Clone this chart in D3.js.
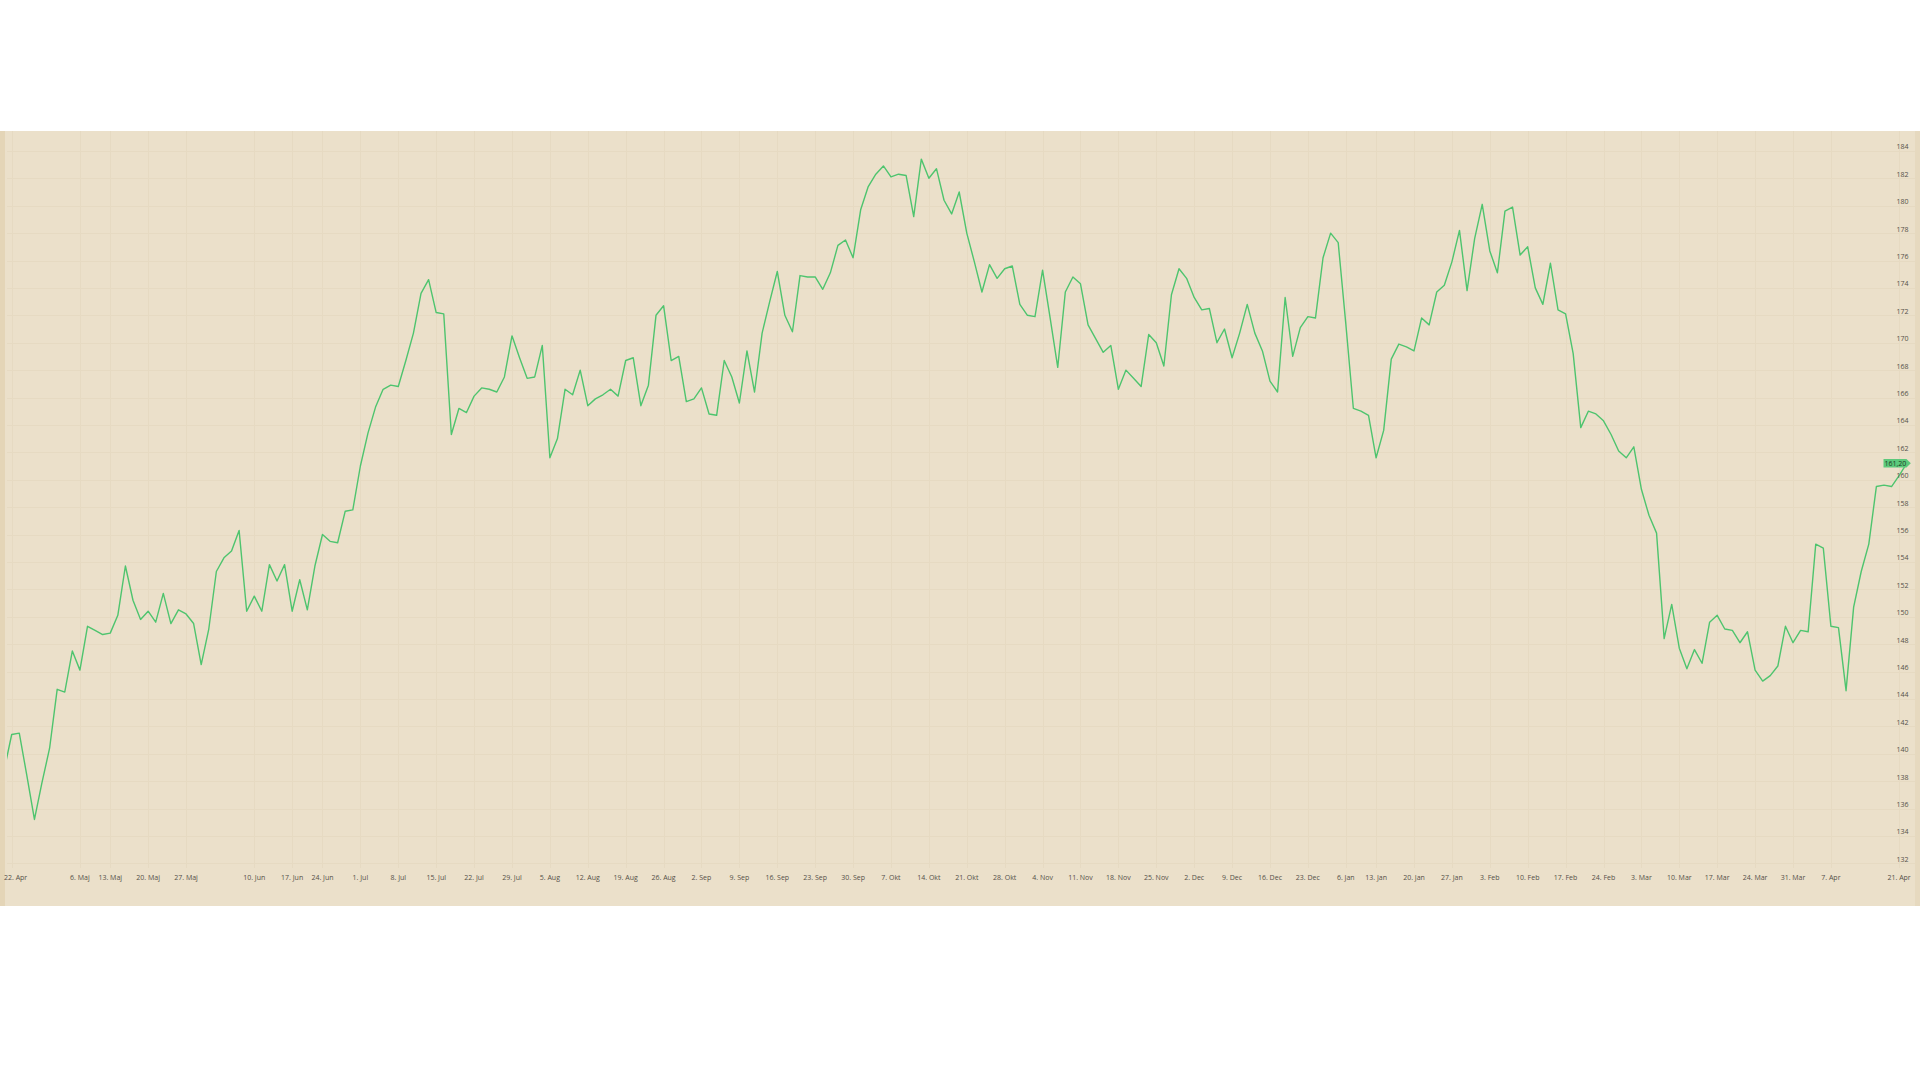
<!DOCTYPE html>
<html>
<head>
<meta charset="utf-8">
<script src="https://cdn.jsdelivr.net/npm/d3@7"></script>
<style>
  html, body { margin: 0; padding: 0; background: #ffffff; }
  svg { display: block; }
</style>
</head>
<body>
<svg id="chart" width="1920" height="1080"></svg>
<script>
// Daily closing prices (first value is the session before 22. Apr, partly off-screen)
const prices = [
  138.8,
  141.4, 141.5, 138.4, 135.2, 137.9, 140.4, 144.7, 144.5, 147.5, 146.1,
  149.3, 149.0, 148.7, 148.8, 150.1, 153.7, 151.2, 149.8, 150.4, 149.6,
  151.7, 149.5, 150.5, 150.2, 149.5, 146.5, 149.1, 153.3, 154.3, 154.8,
  156.3, 150.4, 151.5, 150.4, 153.8, 152.6, 153.8, 150.4, 152.7, 150.5,
  153.7, 156.0, 155.5, 155.4, 157.7, 157.8, 161.0, 163.4, 165.3, 166.6,
  166.9, 166.8, 168.7, 170.7, 173.6, 174.6, 172.2, 172.1, 163.3, 165.2,
  164.9, 166.1, 166.7, 166.6, 166.4, 167.5, 170.5, 168.9, 167.4, 167.5,
  169.8, 161.6, 163.0, 166.6, 166.2, 168.0, 165.4, 165.9, 166.2, 166.6,
  166.1, 168.7, 168.9, 165.4, 166.9, 172.0, 172.7, 168.7, 169.0, 165.7,
  165.9, 166.7, 164.8, 164.7, 168.7, 167.5, 165.6, 169.4, 166.4, 170.7,
  173.0, 175.2, 172.0, 170.8, 174.9, 174.8, 174.8, 173.9, 175.1, 177.1,
  177.5, 176.2, 179.7, 181.4, 182.3, 182.9, 182.1, 182.3, 182.2, 179.2,
  183.4, 182.0, 182.7, 180.4, 179.4, 181.0, 178.0, 175.9, 173.7, 175.7,
  174.7, 175.4, 175.6, 172.8, 172.0, 171.9, 175.3, 171.8, 168.2, 173.7,
  174.8, 174.3, 171.3, 170.3, 169.3, 169.8, 166.6, 168.0, 167.4, 166.8,
  170.6, 170.0, 168.3, 173.5, 175.4, 174.7, 173.3, 172.4, 172.5, 170.0,
  171.0, 168.9, 170.7, 172.8, 170.7, 169.4, 167.2, 166.4, 173.3, 169.0,
  171.1, 171.9, 171.8, 176.2, 178.0, 177.3, 171.4, 165.2, 165.0, 164.7,
  161.6, 163.6, 168.8, 169.9, 169.7, 169.4, 171.8, 171.3, 173.7, 174.2,
  175.9, 178.2, 173.8, 177.6, 180.1, 176.7, 175.1, 179.6, 179.9, 176.4,
  177.0, 174.0, 172.8, 175.8, 172.4, 172.1, 169.2, 163.8, 165.0, 164.8,
  164.3, 163.3, 162.1, 161.6, 162.4, 159.3, 157.4, 156.1, 148.4, 150.9,
  147.7, 146.2, 147.6, 146.6, 149.6, 150.1, 149.1, 149.0, 148.1, 148.9,
  146.1, 145.3, 145.7, 146.4, 149.3, 148.1, 149.0, 148.9, 155.3, 155.0,
  149.3, 149.2, 144.6, 150.7, 153.3, 155.3, 159.5, 159.6, 159.5, 160.3,
  161.2
];

// Weekly x-axis labels and the session (position in prices) each one marks
const tickLabels = [
  "22. Apr", "6. Maj", "13. Maj", "20. Maj", "27. Maj", "10. Jun", "17. Jun", "24. Jun",
  "1. Jul", "8. Jul", "15. Jul", "22. Jul", "29. Jul", "5. Aug", "12. Aug", "19. Aug",
  "26. Aug", "2. Sep", "9. Sep", "16. Sep", "23. Sep", "30. Sep", "7. Okt", "14. Okt",
  "21. Okt", "28. Okt", "4. Nov", "11. Nov", "18. Nov", "25. Nov", "2. Dec", "9. Dec",
  "16. Dec", "23. Dec", "6. Jan", "13. Jan", "20. Jan", "27. Jan", "3. Feb", "10. Feb",
  "17. Feb", "24. Feb", "3. Mar", "10. Mar", "17. Mar", "24. Mar", "31. Mar", "7. Apr",
  "21. Apr"
];
const tickSessions = [
  1, 10, 14, 19, 24, 33, 38, 42, 47, 52, 57, 62, 67, 72, 77, 82,
  87, 92, 97, 102, 107, 112, 117, 122, 127, 132, 137, 142, 147, 152, 157, 162,
  167, 172, 177, 181, 186, 191, 196, 201, 206, 211, 216, 221, 226, 231, 236, 241,
  250
];

// Price axis ticks
const yTicks = d3.range(132, 185, 2);
const lastPriceLabel = "161,20";

const svg = d3.select("#chart");

const panelTop = 131, panelBottom = 906;
const plotLeft = 7, plotRight = 1915, plotBottom = 868;

const x = d3.scaleLinear().domain([0, prices.length - 1]).range([4.12, 1906.7]);
const y = d3.scaleLinear().domain([132, 184]).range([863.3, 150.9]);

// Panel
svg.append("rect").attr("x", 0).attr("y", panelTop).attr("width", 1920)
  .attr("height", panelBottom - panelTop).attr("fill", "#ebe0ca");
svg.append("rect").attr("x", 0).attr("y", panelTop).attr("width", 5)
  .attr("height", panelBottom - panelTop).attr("fill", "#e4d5b7");
svg.append("rect").attr("x", 1915).attr("y", panelTop).attr("width", 5)
  .attr("height", panelBottom - panelTop).attr("fill", "#e6d9bf");

// Grid
const grid = svg.append("g").attr("stroke", "#e6dac2").attr("stroke-width", 1);
grid.selectAll("line.h").data(yTicks).join("line")
  .attr("class", "h")
  .attr("x1", plotLeft).attr("x2", plotRight)
  .attr("y1", d => Math.round(y(d)) + 0.5).attr("y2", d => Math.round(y(d)) + 0.5);
grid.selectAll("line.v").data(tickSessions).join("line")
  .attr("class", "v")
  .attr("x1", d => Math.round(x(d)) + 0.5).attr("x2", d => Math.round(x(d)) + 0.5)
  .attr("y1", panelTop).attr("y2", plotBottom);

// Clip for the line
svg.append("clipPath").attr("id", "plotclip").append("rect")
  .attr("x", plotLeft).attr("y", panelTop).attr("width", plotRight - plotLeft)
  .attr("height", plotBottom - panelTop);

const line = d3.line().x((d, i) => x(i)).y(d => y(d));
svg.append("path")
  .datum(prices)
  .attr("clip-path", "url(#plotclip)")
  .attr("fill", "none")
  .attr("stroke", "#4ec46e")
  .attr("stroke-width", 1.4)
  .attr("stroke-linejoin", "round")
  .attr("d", line);

// Y axis labels (right side)
svg.append("g").selectAll("text").data(yTicks).join("text")
  .attr("x", 1908.5)
  .attr("y", d => y(d) - 4)
  .attr("dy", "0.35em")
  .attr("text-anchor", "end")
  .attr("font-family", "'Open Sans', 'Noto Sans', sans-serif")
  .attr("font-size", 7)
  .attr("fill", "#555049")
  .text(d => d);

// X axis labels
svg.append("g").selectAll("text").data(tickSessions).join("text")
  .attr("y", 878)
  .attr("dy", "0.35em")
  .attr("font-family", "'Open Sans', 'Noto Sans', sans-serif")
  .attr("font-size", 7)
  .attr("fill", "#555049")
  .attr("text-anchor", (d, i) => i === 0 ? "start" : "middle")
  .attr("x", (d, i) => i === 0 ? 4 : x(d))
  .text((d, i) => tickLabels[i]);

// Last price marker
const lastVal = prices[prices.length - 1];
const ly = y(lastVal);
const mk = svg.append("g");
mk.append("path")
  .attr("d", `M1883.5,${ly - 4.2} L1906.5,${ly - 4.2} L1910.8,${ly} L1906.5,${ly + 4.2} L1883.5,${ly + 4.2} Z`)
  .attr("fill", "#5cc97b");
mk.append("text")
  .attr("x", 1895.3).attr("y", ly).attr("dy", "0.35em")
  .attr("text-anchor", "middle")
  .attr("font-family", "'Open Sans', 'Noto Sans', sans-serif")
  .attr("font-size", 7)
  .attr("fill", "#1f3a26")
  .text(lastPriceLabel);
</script>
</body>
</html>
